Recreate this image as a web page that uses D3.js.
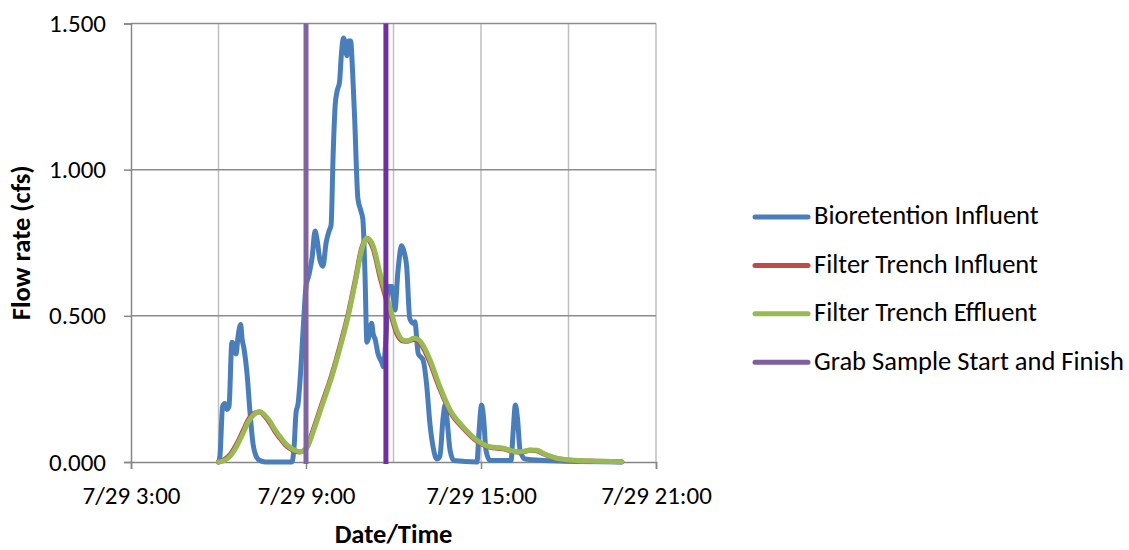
<!DOCTYPE html>
<html>
<head>
<meta charset="utf-8">
<script src="https://cdn.jsdelivr.net/npm/d3@7"></script>
<style>
  html, body { margin: 0; padding: 0; background: #fff; }
  svg { display: block; }
  text { font-family: Carlito, Calibri, Lato, sans-serif; fill: #000; }
</style>
</head>
<body>
<svg id="chart" width="1129" height="550"></svg>
<script>
// ---- data (hours on 7/29, flow in cfs) ----
const bioTimes = [6.00, 6.05, 6.14, 6.22, 6.29, 6.36, 6.46, 6.53, 6.60, 6.67, 6.76, 6.81, 6.87, 6.98, 7.08, 7.18, 7.29, 7.42, 7.60,
  8.52, 8.59, 8.66, 8.73, 8.79, 8.90, 9.00, 9.10, 9.21, 9.31, 9.38, 9.48, 9.58, 9.69, 9.79, 9.86, 9.93, 10.00, 10.07, 10.15, 10.21, 10.28,
  10.33, 10.40, 10.46, 10.53, 10.60, 10.67, 10.78, 10.88, 10.95, 11.02, 11.09, 11.16, 11.25, 11.30, 11.37, 11.47, 11.60, 11.65,
  11.74, 11.84, 11.95, 12.05, 12.15, 12.28, 12.36, 12.45, 12.56, 12.67, 12.73, 12.85, 13.01, 13.14, 13.25, 13.36, 13.49, 13.59,
  13.70, 13.77, 13.83, 13.94, 14.07, 14.86, 14.93, 15.02, 15.09, 15.17, 15.31, 16.03, 16.10, 16.18, 16.25, 16.34, 16.51, 17.71, 19.83];
const bioValues = [0.000, 0.020, 0.190, 0.200, 0.180, 0.190, 0.410, 0.400, 0.370, 0.430, 0.470, 0.420, 0.390, 0.300, 0.170, 0.065, 0.020, 0.005, 0.000,
  0.000, 0.050, 0.170, 0.200, 0.270, 0.450, 0.600, 0.640, 0.700, 0.790, 0.760, 0.690, 0.670, 0.750, 0.790, 0.810, 1.050, 1.220, 1.270, 1.300, 1.390, 1.450,
  1.440, 1.390, 1.440, 1.440, 1.330, 1.170, 0.900, 0.860, 0.830, 0.650, 0.410, 0.430, 0.475, 0.440, 0.420, 0.370, 0.340, 0.326,
  0.420, 0.600, 0.600, 0.520, 0.650, 0.740, 0.720, 0.670, 0.490, 0.475, 0.480, 0.370, 0.350, 0.260, 0.130, 0.050, 0.010, 0.020,
  0.150, 0.195, 0.150, 0.040, 0.005, 0.000, 0.100, 0.195, 0.150, 0.040, 0.005, 0.005, 0.100, 0.195, 0.150, 0.040, 0.010, 0.003, 0.000];

const ftTimes = [6.00, 6.20, 6.40, 6.60, 6.85, 7.01, 7.19, 7.42, 7.59, 7.77, 7.94, 8.11, 8.28, 8.45, 8.62, 8.79, 8.96, 9.07, 9.19,
  9.34, 9.54, 9.88, 10.22, 10.45, 10.68, 10.91, 11.08, 11.19, 11.31, 11.54, 11.77, 11.93, 12.11, 12.33, 12.50, 12.68, 12.84, 13.01,
  13.25, 13.59, 13.94, 14.39, 14.85, 15.31, 15.76, 16.22, 16.44, 16.68, 16.92, 17.13, 17.59, 18.05, 18.74, 19.83];
const ftInfluent = [0.000, 0.008, 0.025, 0.057, 0.108, 0.142, 0.165, 0.171, 0.156, 0.132, 0.104, 0.081, 0.060, 0.046, 0.037, 0.034, 0.042, 0.060, 0.093,
  0.137, 0.197, 0.297, 0.418, 0.508, 0.618, 0.732, 0.765, 0.755, 0.728, 0.632, 0.550, 0.497, 0.440, 0.414, 0.413, 0.419, 0.414, 0.392,
  0.340, 0.250, 0.172, 0.116, 0.072, 0.050, 0.045, 0.034, 0.035, 0.040, 0.038, 0.028, 0.012, 0.006, 0.003, 0.001];
const ftEffluent = [0.000, 0.005, 0.020, 0.050, 0.100, 0.135, 0.160, 0.172, 0.160, 0.138, 0.110, 0.087, 0.065, 0.050, 0.040, 0.035, 0.040, 0.055, 0.087,
  0.130, 0.190, 0.290, 0.410, 0.500, 0.610, 0.725, 0.765, 0.760, 0.737, 0.645, 0.565, 0.510, 0.450, 0.417, 0.415, 0.423, 0.420, 0.400,
  0.350, 0.258, 0.178, 0.120, 0.075, 0.052, 0.047, 0.035, 0.036, 0.041, 0.040, 0.030, 0.013, 0.007, 0.003, 0.001];

const grabTimes = [9.00, 11.74];
const grabColors = ["#8064A2", "#7030A0"];

const yTicks = [0, 0.5, 1.0, 1.5];
const xTicks = [3, 9, 15, 21];
const xTickLabels = ["7/29 3:00", "7/29 9:00", "7/29 15:00", "7/29 21:00"];
const xGrid = [6, 9, 12, 15, 18, 21];

const seriesNames = ["Bioretention Influent", "Filter Trench Influent", "Filter Trench Effluent", "Grab Sample Start and Finish"];
const seriesColors = ["#4A7EBB", "#BE4B48", "#98B954", "#7D60A0"];

// ---- layout ----
const svg = d3.select("#chart");
const plot = { left: 131, right: 656, top: 23.5, bottom: 462 };
const x = d3.scaleLinear().domain([3, 21]).range([plot.left, plot.right]);
const y = d3.scaleLinear().domain([0, 1.5]).range([plot.bottom, plot.top]);

// gridlines
svg.append("g").selectAll("line").data(xGrid).join("line")
  .attr("x1", d => x(d)).attr("x2", d => x(d))
  .attr("y1", plot.top).attr("y2", plot.bottom)
  .attr("stroke", "#BFBFBF").attr("stroke-width", 1.5);
svg.append("g").selectAll("line").data(yTicks.filter(d => d > 0)).join("line")
  .attr("x1", plot.left).attr("x2", plot.right)
  .attr("y1", d => y(d)).attr("y2", d => y(d))
  .attr("stroke", "#8C8C8C").attr("stroke-width", 1.5);

// axes
const yAxis = d3.axisLeft(y).tickValues(yTicks).tickFormat(d3.format(".3f")).tickSize(7).tickPadding(18);
const gy = svg.append("g").attr("transform", `translate(${plot.left},0)`).call(yAxis);
const xAxis = d3.axisBottom(x).tickValues(xTicks).tickFormat((d, i) => xTickLabels[i]).tickSize(7).tickPadding(17);
const gx = svg.append("g").attr("transform", `translate(0,${plot.bottom})`).call(xAxis);
[gy, gx].forEach(g => {
  g.select(".domain").attr("stroke", "#868686").attr("stroke-width", 1.5);
  g.selectAll(".tick line").attr("stroke", "#868686").attr("stroke-width", 1.5);
  g.selectAll(".tick text").style("font-family", "Carlito, Calibri, Lato, sans-serif").style("font-size", "25px").attr("fill", "#000");
});

// series
const line = d3.line().x(d => x(d[0])).y(d => y(d[1])).curve(d3.curveMonotoneX);
const lines = svg.append("g");
lines.append("path").datum(d3.zip(bioTimes, bioValues)).attr("d", line)
  .attr("fill", "none").attr("stroke", seriesColors[0]).attr("stroke-width", 5)
  .attr("stroke-linejoin", "round").attr("stroke-linecap", "round");
lines.append("path").datum(d3.zip(ftTimes, ftInfluent)).attr("d", line)
  .attr("fill", "none").attr("stroke", seriesColors[1]).attr("stroke-width", 5)
  .attr("stroke-linejoin", "round").attr("stroke-linecap", "round");
lines.append("path").datum(d3.zip(ftTimes, ftEffluent)).attr("d", line)
  .attr("fill", "none").attr("stroke", seriesColors[2]).attr("stroke-width", 5)
  .attr("stroke-linejoin", "round").attr("stroke-linecap", "round");
lines.selectAll("line.grab").data(grabTimes).join("line").attr("class", "grab")
  .attr("x1", d => x(d)).attr("x2", d => x(d))
  .attr("y1", y(0) + 2).attr("y2", y(1.5))
  .attr("stroke", (d, i) => grabColors[i]).attr("stroke-width", 5);

// axis titles
svg.append("text").attr("transform", `translate(24,${(plot.top + plot.bottom) / 2}) rotate(-90)`)
  .attr("text-anchor", "middle").attr("dominant-baseline", "middle")
  .style("font-size", "26.5px").style("font-weight", "bold").text("Flow rate (cfs)");
svg.append("text").attr("x", (plot.left + plot.right) / 2).attr("y", 537)
  .attr("text-anchor", "middle").attr("dominant-baseline", "middle")
  .style("font-size", "26.5px").style("font-weight", "bold").text("Date/Time");

// legend
const legend = svg.append("g");
const rows = legend.selectAll("g").data(seriesNames).join("g")
  .attr("transform", (d, i) => `translate(755,${217 + i * 48.4})`);
rows.append("line").attr("x1", 0).attr("x2", 53).attr("y1", 0).attr("y2", 0)
  .attr("stroke", (d, i) => seriesColors[i]).attr("stroke-width", 5).attr("stroke-linecap", "round");
rows.append("text").attr("x", 59).attr("y", 1).attr("dominant-baseline", "middle")
  .style("font-size", "26.5px").text(d => d);
</script>
</body>
</html>
